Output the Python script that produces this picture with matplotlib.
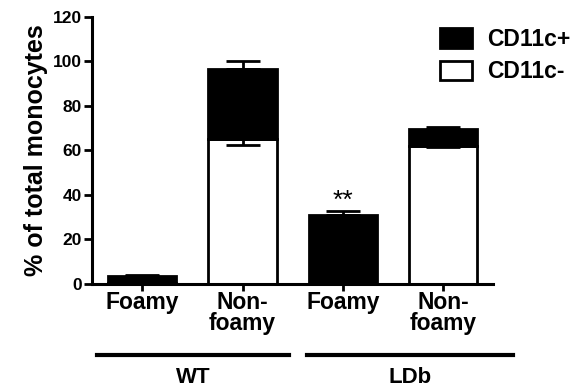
import numpy as np
import matplotlib
matplotlib.use("Agg")
import matplotlib.pyplot as plt
import matplotlib.transforms as mtransforms

plt.rcParams['font.family'] = ['Liberation Sans', 'DejaVu Sans']
plt.rcParams['font.weight'] = 'bold'

# data
cats = ["Foamy", "Non-\nfoamy", "Foamy", "Non-\nfoamy"]
groups = ["WT", "LDb"]
cd11c_neg = [0.4, 65.0, 0.0, 62.0]
cd11c_pos = [3.2, 31.7, 30.8, 7.4]
err_top = [0.6, 3.3, 1.8, 1.0]
err_neg = [0.0, 2.6, 0.0, 0.6]

x = np.arange(len(cats))
tot = np.array(cd11c_neg) + np.array(cd11c_pos)

fig = plt.figure(figsize=(5.83, 3.91), dpi=100)
ax = fig.add_axes([0.158, 0.274, 0.688, 0.683])

w = 0.68
ax.bar(x, cd11c_neg, w, color="white", edgecolor="black", linewidth=2, label="CD11c-", zorder=2)
ax.bar(x, cd11c_pos, w, bottom=cd11c_neg, color="black", edgecolor="black", linewidth=2,
       label="CD11c+", zorder=2)

# error bars: top segment upward, lower segment downward
ax.errorbar(x, tot, yerr=[np.zeros(4), err_top], fmt="none", ecolor="black",
            elinewidth=2, capsize=12, capthick=2, zorder=3)
m = np.array(err_neg) > 0
ax.errorbar(x[m], np.array(cd11c_neg)[m], yerr=[np.array(err_neg)[m], np.zeros(m.sum())],
            fmt="none", ecolor="black", elinewidth=2, capsize=12, capthick=2, zorder=3)

ax.text(2, tot[2] + err_top[2] - 0.8, "**", ha="center", va="bottom", fontsize=19,
        fontweight="normal")

ax.set_xlim(-0.5, 3.5)
ax.set_ylim(0, 120)
ax.set_yticks(np.arange(0, 121, 20))
ax.set_xticks(x)
ax.set_xticklabels(cats, fontsize=16.5, fontweight="bold", linespacing=0.9)
for t in ax.get_yticklabels():
    t.set_fontweight("bold")
ax.tick_params(axis="x", length=5, width=2, pad=0)
ax.tick_params(axis="y", length=6, width=2, labelsize=12.5, pad=1.5)
ax.set_ylabel("% of total monocytes", fontsize=18, fontweight="bold", labelpad=3)

for s in ["top", "right"]:
    ax.spines[s].set_visible(False)
for s in ["left", "bottom"]:
    ax.spines[s].set_linewidth(2.2)

# group lines and labels below the axis
tr = mtransforms.blended_transform_factory(ax.transData, ax.transAxes)
for (a, b), g in zip([(-0.45, 1.46), (1.64, 3.7)], groups):
    ax.plot([a, b], [-0.266, -0.266], color="black", lw=3, transform=tr, clip_on=False)
    ax.text((a + b) / 2, -0.35, g, transform=tr, ha="center", va="center", fontsize=16,
            fontweight="bold")

h, l = ax.get_legend_handles_labels()
ax.legend(h[::-1], l[::-1], loc="upper left", bbox_to_anchor=(0.755, 0.928),
          bbox_transform=fig.transFigure, frameon=False,
          prop={"size": 16.5, "weight": "bold"},
          handlelength=1.4, handleheight=0.95, handletextpad=0.65, labelspacing=0.4,
          borderaxespad=0, borderpad=0)

fig.savefig("out.png", dpi=100)
